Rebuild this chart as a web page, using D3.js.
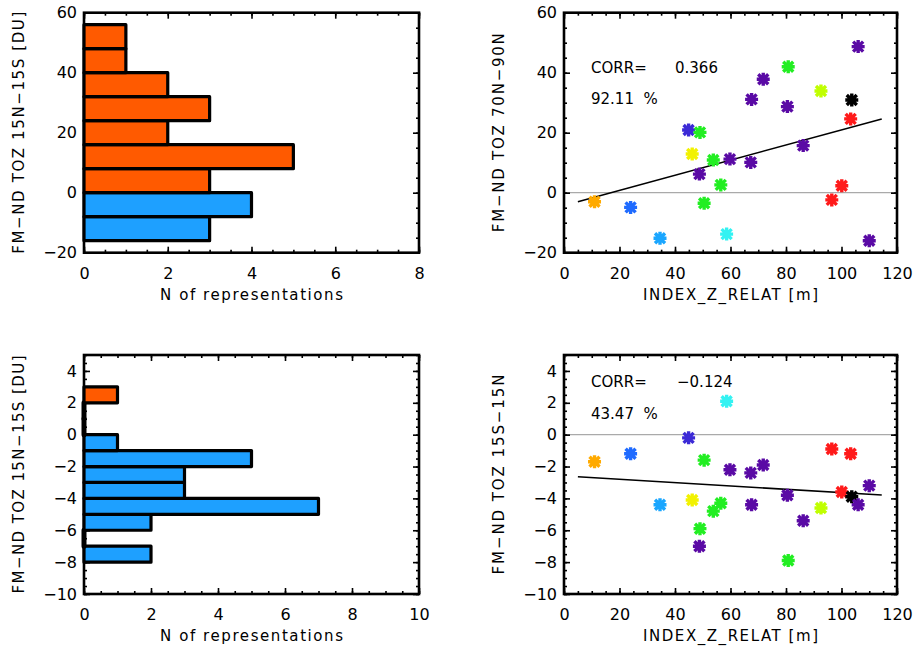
<!DOCTYPE html>
<html>
<head>
<meta charset="utf-8">
<script src="https://cdn.jsdelivr.net/npm/d3@7"></script>
<style>
body { margin: 0; background: #fff; }
svg text { font-family: "DejaVu Sans", sans-serif; fill: #000; }
.tick text { font-size: 16px; }
.axis-title { font-size: 15px; }
.corr { font-size: 15px; white-space: pre; }
</style>
</head>
<body>
<div id="chart"></div>
<script>
// histogram, top: bin lower edges (DU) and counts
var histTopLo = [-16, -8, 0, 8, 16, 24, 32, 40, 48];
var histTopN = [3, 4, 3, 5, 2, 3, 2, 1, 1];
var histTopWidth = 8;
// histogram, bottom
var histBotLo = [-8, -7, -6, -5, -4, -3, -2, -1, 0, 1, 2];
var histBotN = [2, 0, 2, 7, 3, 3, 5, 1, 0, 0, 1];
var histBotWidth = 1;

// scatter points (same INDEX_Z_RELAT for both panels)
var indexZ = [11, 24, 34.6, 44.9, 46.2, 48.8, 49, 50.5, 53.8, 56.5, 58.6, 59.8, 67.3, 67.6, 71.8, 80.8, 80.5, 86.2, 92.6, 96.5, 100.1, 103.7, 103.3, 106, 110];
var toz70N90N = [-3.0, -4.9, -15.2, 20.9, 12.9, 6.2, 20.1, -3.5, 10.9, 2.6, -13.8, 11.2, 10.1, 31.1, 37.8, 42, 28.7, 15.7, 33.9, -2.4, 2.3, 30.9, 24.6, 48.7, -16];
var toz15S15N = [-1.7, -1.2, -4.4, -0.2, -4.1, -7.0, -5.9, -1.6, -4.8, -4.3, 2.1, -2.2, -2.4, -4.4, -1.9, -7.9, -3.8, -5.4, -4.6, -0.9, -3.6, -3.9, -1.2, -4.4, -3.2];
var pointColors = ["#ffaa00", "#1f6bff", "#1aa6ff", "#3c2ad6", "#f2f200", "#5a0aa5", "#22ee22", "#22ee22", "#22ee22", "#22ee22", "#33f2f2", "#5a0aa5", "#5a0aa5", "#5a0aa5", "#5a0aa5", "#22ee22", "#5a0aa5", "#5a0aa5", "#c0ff00", "#ff1a1a", "#ff1a1a", "#000000", "#ff1a1a", "#5a0aa5", "#5a0aa5"];

// regression lines
var fitTop = [[5, -3.0], [114.5, 24.6]];
var fitBot = [[5, -2.64], [114.5, -3.79]];

// tick labels
var histTopYTicks = [-20, 0, 20, 40, 60];
var histTopXTicks = [0, 2, 4, 6, 8];
var histBotYTicks = [-10, -8, -6, -4, -2, 0, 2, 4];
var histBotXTicks = [0, 2, 4, 6, 8, 10];
var scatXTicks = [0, 20, 40, 60, 80, 100, 120];

var svg = d3.select("#chart")
	.append("svg")
	.attr("width", 916)
	.attr("height", 647);

function frameAxes(g, x, y, w, h, xTicks, yTicks, xMinor, yMinor) {
	var ax;
	ax = g.append("g").attr("transform", "translate(0," + h + ")")
		.call(d3.axisBottom(x).tickValues(xTicks).tickSize(-6).tickPadding(15).tickFormat(d3.format("d")));
	ax.select(".domain").remove();
	ax = g.append("g").attr("transform", "translate(0," + h + ")")
		.call(d3.axisBottom(x).tickValues(xMinor).tickSize(-3).tickFormat(""));
	ax.select(".domain").remove();
	ax = g.append("g")
		.call(d3.axisTop(x).tickValues(xTicks).tickSize(-6).tickFormat(""));
	ax.select(".domain").remove();
	ax = g.append("g")
		.call(d3.axisTop(x).tickValues(xMinor).tickSize(-3).tickFormat(""));
	ax.select(".domain").remove();

	ax = g.append("g")
		.call(d3.axisLeft(y).tickValues(yTicks).tickSize(-6).tickPadding(7).tickFormat(function (d) { return d < 0 ? "\u2212" + (-d) : d; }));
	ax.select(".domain").remove();
	ax = g.append("g")
		.call(d3.axisLeft(y).tickValues(yMinor).tickSize(-3).tickFormat(""));
	ax.select(".domain").remove();
	ax = g.append("g").attr("transform", "translate(" + w + ",0)")
		.call(d3.axisRight(y).tickValues(yTicks).tickSize(-6).tickFormat(""));
	ax.select(".domain").remove();
	ax = g.append("g").attr("transform", "translate(" + w + ",0)")
		.call(d3.axisRight(y).tickValues(yMinor).tickSize(-3).tickFormat(""));
	ax.select(".domain").remove();

	g.selectAll(".tick line").attr("stroke", "#000").attr("stroke-width", 1.6);

	g.append("rect")
		.attr("x", 0).attr("y", 0)
		.attr("width", w).attr("height", h)
		.attr("fill", "none")
		.attr("stroke", "#000")
		.attr("stroke-width", 2.6);
}

function titles(g, w, h, xTitle, xLen, yTitle, yLen, yTitleX) {
	g.append("text")
		.classed("axis-title", true)
		.attr("x", w / 2)
		.attr("y", h + 47)
		.attr("text-anchor", "middle")
		.attr("textLength", xLen)
		.attr("lengthAdjust", "spacing")
		.text(xTitle);
	g.append("text")
		.classed("axis-title", true)
		.attr("transform", "translate(" + yTitleX + "," + (h / 2) + ") rotate(-90)")
		.attr("text-anchor", "middle")
		.attr("textLength", yLen)
		.attr("lengthAdjust", "spacing")
		.attr("dy", "0.35em")
		.text(yTitle);
}

function drawHist(left, top, lo, n, binW, xMax, yDom, xTicks, yTicks, xMinorStep, yMinorStep) {
	var w = 335, h = top < 100 ? 240 : 239;
	var g = svg.append("g").attr("transform", "translate(" + left + "," + top + ")");
	var x = d3.scaleLinear().domain([0, xMax]).range([0, w]);
	var y = d3.scaleLinear().domain(yDom).range([h, 0]);

	frameAxes(g, x, y, w, h, xTicks, yTicks,
		d3.range(0, xMax + 1e-9, xMinorStep),
		d3.range(yDom[0], yDom[1] + 1e-9, yMinorStep));

	// paths rather than rects so that empty bins still leave their outline
	g.selectAll(".bar")
		.data(lo)
		.enter()
		.append("path")
		.classed("bar", true)
		.attr("d", function (d, i) {
			return "M" + x(0) + "," + y(d) + "H" + x(n[i]) + "V" + y(d + binW) + "H" + x(0) + "Z";
		})
		.attr("fill", function (d) { return d >= 0 ? "#ff5a00" : "#1ea0ff"; })
		.attr("stroke", "#000")
		.attr("stroke-width", function (d, i) { return n[i] === 0 ? 5 : 3.2; })
		.attr("stroke-linejoin", "round");
	return g;
}

function drawScatter(left, top, yVals, yDom, yTicks, yMinorStep, fit, corr, pct) {
	var w = 333, h = top < 100 ? 240 : 239;
	var g = svg.append("g").attr("transform", "translate(" + left + "," + top + ")");
	var x = d3.scaleLinear().domain([0, 120]).range([0, w]);
	var y = d3.scaleLinear().domain(yDom).range([h, 0]);

	g.append("line")
		.attr("x1", 0).attr("x2", w)
		.attr("y1", y(0)).attr("y2", y(0))
		.attr("stroke", "#aaaaaa")
		.attr("stroke-width", 1.3);

	g.append("path")
		.datum(fit)
		.attr("d", d3.line().x(function (d) { return x(d[0]); }).y(function (d) { return y(d[1]); }))
		.attr("fill", "none")
		.attr("stroke", "#000")
		.attr("stroke-width", 1.6);

	g.selectAll(".pt")
		.data(yVals)
		.enter()
		.append("path")
		.classed("pt", true)
		.attr("transform", function (d, i) { return "translate(" + x(indexZ[i]) + "," + y(d) + ")"; })
		.attr("d", "M-6.5,0H6.5M0,-6.5V6.5M-5,-5L5,5M-5,5L5,-5")
		.attr("stroke", function (d, i) { return pointColors[i]; })
		.attr("stroke-width", 3.4)
		.attr("fill", "none");

	g.append("text").classed("corr", true).attr("x", 27).attr("y", top < 100 ? 60 : 32).text("CORR=");
	g.append("text").classed("corr", true).attr("x", corr.charAt(0) === "-" ? 113 : 111).attr("y", top < 100 ? 60 : 32)
		.text(corr.replace("-", "\u2212"));
	g.append("text").classed("corr", true).attr("x", 27).attr("y", top < 100 ? 91 : 64).text(pct + "  %");

	frameAxes(g, x, y, w, h, scatXTicks, yTicks,
		d3.range(0, 120 + 1e-9, 5),
		d3.range(yDom[0], yDom[1] + 1e-9, yMinorStep));
	return g;
}

var g1 = drawHist(84, 12.7, histTopLo, histTopN, histTopWidth, 8, [-20, 60], histTopXTicks, histTopYTicks, 0.5, 5);
titles(g1, 335, 240, "N of representations", 183, "FM\u2212ND TOZ 15N\u221215S [DU]", 242, -65);

var g2 = drawScatter(564, 12.7, toz70N90N, [-20, 60], histTopYTicks, 5, fitTop, "0.366", "92.11");
titles(g2, 333, 240, "INDEX_Z_RELAT [m]", 175, "FM\u2212ND TOZ 70N\u221290N", 199, -65);

var g3 = drawHist(84, 355, histBotLo, histBotN, histBotWidth, 10, [-10, 5], histBotXTicks, histBotYTicks, 0.5, 0.5);
titles(g3, 335, 239, "N of representations", 183, "FM\u2212ND TOZ 15N\u221215S [DU]", 238, -65);

var g4 = drawScatter(564, 355, toz15S15N, [-10, 5], histBotYTicks, 0.5, fitBot, "-0.124", "43.47");
titles(g4, 333, 239, "INDEX_Z_RELAT [m]", 175, "FM\u2212ND TOZ 15S\u221215N", 200, -65);
</script>
</body>
</html>
